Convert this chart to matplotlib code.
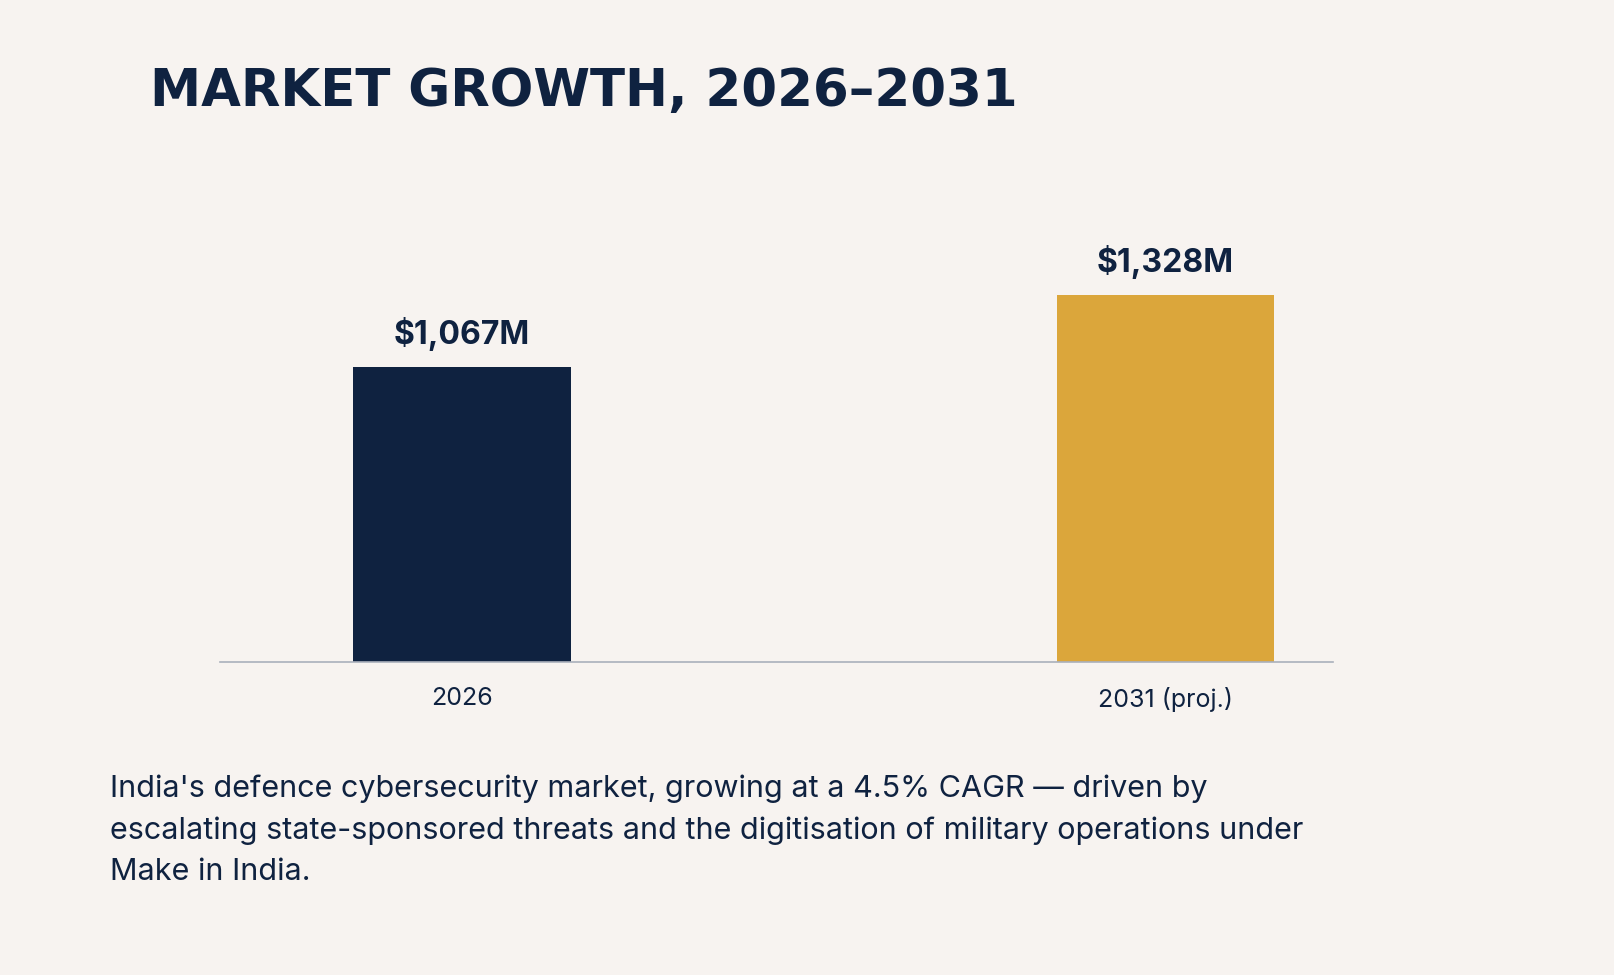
import matplotlib.pyplot as plt

categories = ["2026", "2031 (proj.)"]
values = [1067, 1328]
value_labels = ["$1,067M", "$1,328M"]
title = "MARKET GROWTH, 2026\u20132031"
caption = ("India's defence cybersecurity market, growing at a 4.5% CAGR \u2014 driven by\n"
           "escalating state-sponsored threats and the digitisation of military operations under\n"
           "Make in India.")

BG = "#f7f3f0"
NAVY = "#0f2240"
colors = ["#0f2240", "#dba63b"]
FONT = ["Inter", "DejaVu Sans"]

fig = plt.figure(figsize=(16.14, 9.75), dpi=100, facecolor=BG)
ax = fig.add_axes([0.136, 0.321, 0.690, 0.376], facecolor=BG)

x = list(range(len(categories)))
bars = ax.bar(x, values, width=0.309, color=colors)
for b, lab in zip(bars, value_labels):
    ax.text(b.get_x() + b.get_width() / 2, b.get_height() + 60, lab,
            ha="center", va="bottom", fontsize=23, fontweight="bold",
            color=NAVY, family=FONT)

ax.set_xlim(-0.345, 1.239)
ax.set_ylim(0, 1328)
ax.set_xticks(x)
ax.set_xticklabels(categories, fontsize=18, color=NAVY, family=FONT)
ax.tick_params(axis="x", length=0, pad=18)
ax.set_yticks([])
for s in ["top", "right", "left"]:
    ax.spines[s].set_visible(False)
ax.spines["bottom"].set_color("#aab0bc")
ax.spines["bottom"].set_linewidth(1.2)

fig.text(150 / 1614, 1 - 92 / 975, title, ha="left", va="center",
         fontsize=37, fontweight="bold", color=NAVY,
         family=["Liberation Sans Narrow", "DejaVu Sans"])
fig.text(110 / 1614, 1 - 830 / 975, caption, ha="left", va="center",
         fontsize=22, color=NAVY, linespacing=1.6, family=FONT)

fig.savefig("out.png", dpi=100, facecolor=BG)
